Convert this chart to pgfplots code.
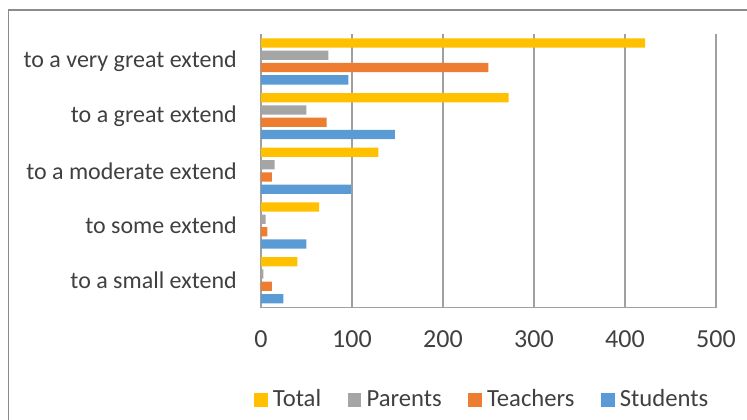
\documentclass[border=0pt]{standalone}
\usepackage{pgfplots}
\pgfplotsset{compat=1.18}
\usepackage{fontspec}
\setmainfont{Carlito}
\definecolor{cTotal}{HTML}{FFC000}
\definecolor{cParents}{HTML}{A5A5A5}
\definecolor{cTeachers}{HTML}{ED7D31}
\definecolor{cStudents}{HTML}{5B9BD5}
\definecolor{gridgray}{HTML}{A0A0A0}
\definecolor{bordergray}{HTML}{8C8C8C}
\definecolor{textgray}{HTML}{404040}
\pgfplotsset{sqlegend/.style={legend image code/.code={\fill[##1, draw=none] (0pt,-5pt) rectangle (10pt,5pt);}}}
\begin{document}
\fontsize{18}{21}\selectfont
\begin{tikzpicture}
\useasboundingbox (0,0) rectangle (560.25pt,314.25pt);
\draw[bordergray, line width=1pt] (6.6pt,-1pt) -- (6.6pt,306.75pt) -- (561pt,306.75pt);
\begin{axis}[
  at={(195.75pt,83.6pt)}, anchor=south west,
  scale only axis, width=341.25pt, height=205.1pt,
  xbar, xmin=0, xmax=500, ymin=-0.5, ymax=4.5,
  xtick={0,100,200,300,400,500}, ytick={0,1,2,3,4},
  yticklabels={to a small extend, to some extend, to a moderate extend, to a great extend, to a very great extend},
  axis line style={draw=none},
  major tick length=0pt,
  xmajorgrids, major grid style={draw=gridgray, line width=1.1pt},
  /pgf/number format/assume math mode=true,
  tick label style={text=textgray},
  yticklabel style={anchor=east, inner sep=0pt, xshift=-18pt, font=\fontsize{18}{21}\selectfont},
  xticklabel style={anchor=base, yshift=-30pt, font=\fontsize{19.5}{22}\selectfont},
  bar width=0.17,
  legend columns=4,
  legend cell align=left,
  legend style={at={(0.49,-0.338)}, anchor=center, draw=none, fill=none,
    text=textgray, font=\fontsize{18.5}{22}\selectfont,
    nodes={inner xsep=4pt},
    /tikz/every odd column/.append style={column sep=0pt},
    /tikz/every even column/.append style={column sep=16pt}},
]
\addplot[fill=cTotal, draw=none, bar shift=0.3375, sqlegend] coordinates {(40,0) (64,1) (129,2) (272,3) (422,4)};
\addplot[fill=cParents, draw=none, bar shift=0.1125, sqlegend] coordinates {(2.5,0) (5,1) (15,2) (50,3) (74,4)};
\addplot[fill=cTeachers, draw=none, bar shift=-0.1125, sqlegend] coordinates {(12,0) (7,1) (12,2) (72,3) (250,4)};
\addplot[fill=cStudents, draw=none, bar shift=-0.3375, sqlegend] coordinates {(24.5,0) (50,1) (99,2) (147,3) (96,4)};
\legend{Total, Parents, Teachers, Students}
\draw[gridgray, line width=1.1pt] (rel axis cs:0,0) -- (rel axis cs:1,0);
\end{axis}
\end{tikzpicture}
\end{document}
